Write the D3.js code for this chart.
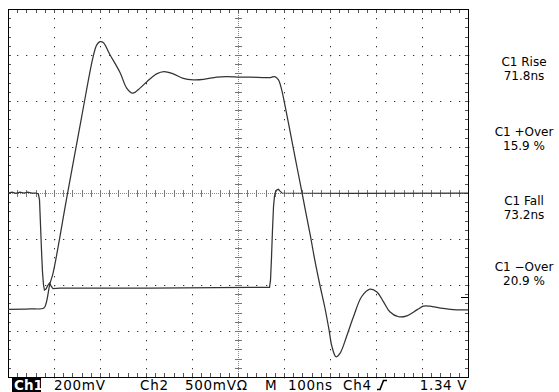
<!DOCTYPE html>
<html>
<head>
<meta charset="utf-8">
<script src="https://cdn.jsdelivr.net/npm/d3@7/dist/d3.min.js"></script>
<style>
  html, body { margin: 0; padding: 0; background: #fff; }
  svg { display: block; }
  text { font-family: "DejaVu Sans", sans-serif; }
</style>
</head>
<body>
<svg id="chart" width="559" height="392"></svg>
<script>
// ---- Data (time in ns, vertical position in screen divisions from centre) ----
const ch1Time = [0, 48, 78, 83, 91, 98, 128, 160, 185, 193, 200, 207, 222, 244, 258, 271, 287, 302, 323, 339, 359, 381, 403, 425, 454, 475, 504, 526, 570, 580, 588, 595, 602, 613, 624, 635, 646, 657, 667, 678, 689, 698, 704, 713, 722, 736, 751, 769, 787, 802, 816, 830, 849, 867, 889, 903, 917, 946, 975, 1000];
const ch1Div  = [-2.53, -2.52, -2.50, -2.39, -1.98, -1.74, -0.09, 1.65, 2.96, 3.22, 3.29, 3.27, 3.00, 2.61, 2.28, 2.17, 2.28, 2.42, 2.59, 2.64, 2.59, 2.49, 2.46, 2.47, 2.52, 2.53, 2.52, 2.52, 2.51, 2.53, 2.46, 2.24, 1.91, 1.35, 0.78, 0.22, -0.35, -0.91, -1.46, -2.00, -2.50, -2.98, -3.33, -3.56, -3.48, -3.12, -2.69, -2.25, -2.09, -2.15, -2.36, -2.58, -2.69, -2.67, -2.54, -2.46, -2.46, -2.51, -2.54, -2.54];

const ch2Time = [0, 9, 17, 26, 35, 43, 52, 61, 66, 68.5, 70.7, 72.8, 75, 77.2, 79.3, 82.6, 87, 90.2, 93.5, 97.8, 113, 309, 526, 568.5, 570.7, 572.8, 575, 577.2, 579.3, 581.5, 584.8, 588, 591.3, 595.7, 744, 1000];
const ch2Div  = [0, 0.02, -0.01, 0.02, 0, 0.02, 0, 0, -0.02, -0.15, -0.70, -1.24, -1.72, -2.00, -2.11, -2.09, -2.00, -1.96, -2.02, -2.08, -2.07, -2.07, -2.05, -2.05, -1.89, -1.41, -0.80, -0.30, -0.07, 0.02, 0.07, 0.08, 0.04, 0, -0.01, 0];

const measureNames  = ["C1 Rise", "C1 +Over", "C1 Fall", "C1 \u2212Over"];
const measureValues = ["71.8ns", "15.9 %", "73.2ns", "20.9 %"];

const statusLabels = ["200mV", "Ch2", "500mV\u03A9", "M", "100ns", "Ch4"];
const triggerLevel = "1.34 V";

// ---- Layout ----
const svg = d3.select("#chart");
const plot = { left: 8, top: 9, right: 468, bottom: 377 };
const x = d3.scaleLinear().domain([0, 1000]).range([plot.left, plot.right]);
const y = d3.scaleLinear().domain([-4, 4]).range([plot.bottom, plot.top]);

svg.append("rect").attr("width", 559).attr("height", 392).attr("fill", "#fff");

const grid = svg.append("g");
const majorT = d3.range(100, 1000, 100);
const majorV = d3.range(-3, 4, 1);
const minorT = d3.range(0, 1000.01, 20);
const minorV = d3.range(-4, 4.01, 0.2);

// dotted graticule (dots at every minor position along major lines)
majorT.filter(t => t !== 500).forEach(t => {
  minorV.forEach(v => {
    grid.append("rect").attr("x", Math.round(x(t))).attr("y", Math.round(y(v)))
      .attr("width", 1).attr("height", 1.3).attr("fill", "#333");
  });
});
majorV.filter(v => v !== 0).forEach(v => {
  minorT.forEach(t => {
    grid.append("rect").attr("x", Math.round(x(t))).attr("y", Math.round(y(v)))
      .attr("width", 1.3).attr("height", 1).attr("fill", "#333");
  });
});

// centre cross: fine dotted lines with ticks
grid.append("line").attr("x1", x(0)).attr("x2", x(1000)).attr("y1", y(0) + 0.5).attr("y2", y(0) + 0.5)
  .attr("stroke", "#888").attr("stroke-width", 1).attr("stroke-dasharray", "1,1");
grid.append("line").attr("x1", x(500) + 0.5).attr("x2", x(500) + 0.5).attr("y1", y(4)).attr("y2", y(-4))
  .attr("stroke", "#888").attr("stroke-width", 1).attr("stroke-dasharray", "1,1");
minorT.forEach(t => {
  grid.append("line").attr("x1", Math.round(x(t)) + 0.5).attr("x2", Math.round(x(t)) + 0.5)
    .attr("y1", y(0) - 3).attr("y2", y(0) + 4).attr("stroke", "#777").attr("stroke-width", 1);
});
minorV.forEach(v => {
  grid.append("line").attr("y1", Math.round(y(v)) + 0.5).attr("y2", Math.round(y(v)) + 0.5)
    .attr("x1", x(500) - 3).attr("x2", x(500) + 4).attr("stroke", "#777").attr("stroke-width", 1);
});

// frame ticks
minorT.forEach(t => {
  const px = Math.round(x(t)) + 0.5;
  grid.append("line").attr("x1", px).attr("x2", px).attr("y1", plot.top).attr("y2", plot.top + 4).attr("stroke", "#555");
  grid.append("line").attr("x1", px).attr("x2", px).attr("y1", plot.bottom - 4).attr("y2", plot.bottom).attr("stroke", "#555");
});
minorV.forEach(v => {
  const py = Math.round(y(v)) + 0.5;
  grid.append("line").attr("y1", py).attr("y2", py).attr("x1", plot.left).attr("x2", plot.left + 3).attr("stroke", "#555");
  grid.append("line").attr("y1", py).attr("y2", py).attr("x1", plot.right - 3).attr("x2", plot.right).attr("stroke", "#555");
});

// frame
svg.append("rect").attr("x", plot.left + 0.5).attr("y", plot.top + 0.5)
  .attr("width", plot.right - plot.left).attr("height", plot.bottom - plot.top)
  .attr("fill", "none").attr("stroke", "#000").attr("stroke-width", 1);

// small right-edge marker
svg.append("line").attr("x1", plot.right - 7).attr("x2", plot.right).attr("y1", Math.round(y(-2.26)) + 0.5).attr("y2", Math.round(y(-2.26)) + 0.5)
  .attr("stroke", "#000");

// traces
svg.append("path").datum(ch2Time.map((t, i) => [t, ch2Div[i]]))
  .attr("d", d3.line().x(d => x(d[0])).y(d => y(d[1])))
  .attr("fill", "none").attr("stroke", "#333").attr("stroke-width", 1.25);
svg.append("path").datum(ch1Time.map((t, i) => [t, ch1Div[i]]))
  .attr("d", d3.line().x(d => x(d[0])).y(d => y(d[1])).curve(d3.curveCatmullRom.alpha(0.5)))
  .attr("fill", "none").attr("stroke", "#333").attr("stroke-width", 1.25);

// measurement readouts (two-line blocks)
const mBase = [66, 136, 205, 271];
measureNames.forEach((n, i) => {
  svg.append("text").attr("x", 524).attr("y", mBase[i]).attr("text-anchor", "middle")
    .attr("font-size", 12).attr("fill", "#000").text(n);
  svg.append("text").attr("x", 524).attr("y", mBase[i] + 14).attr("text-anchor", "middle")
    .attr("font-size", 12).attr("fill", "#000").text(measureValues[i]);
});

// status line
const sy = 390;
svg.append("rect").attr("x", 12).attr("y", 378).attr("width", 29).attr("height", 14).attr("fill", "#000");
svg.append("text").attr("x", 14).attr("y", sy).attr("font-size", 13.5).attr("font-weight", "bold").attr("fill", "#fff").text("Ch1");
const sx = [54, 140, 185, 265, 288, 343];
statusLabels.forEach((s, i) => {
  svg.append("text").attr("x", sx[i]).attr("y", sy).attr("font-size", 13.5).attr("letter-spacing", 0.7)
    .attr("fill", "#000").text(s);
});
svg.append("path").attr("d", "M377,389.5 L380,389.5 L383.5,380.5 L387,380.5")
  .attr("fill", "none").attr("stroke", "#000").attr("stroke-width", 1.6);
svg.append("text").attr("x", 467).attr("y", sy).attr("text-anchor", "end").attr("font-size", 13.5)
  .attr("letter-spacing", 0.6).attr("fill", "#000").text(triggerLevel);
</script>
</body>
</html>
